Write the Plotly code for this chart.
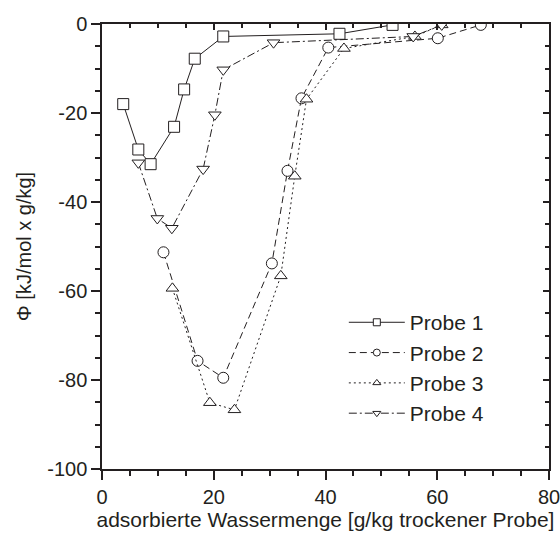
import plotly.graph_objects as go

# ---- data ----
p1_x = [3.8, 6.5, 8.7, 12.9, 14.7, 16.6, 21.7, 42.5, 52.0]
p1_y = [-18.0, -28.2, -31.5, -23.1, -14.7, -7.8, -2.8, -2.2, -0.2]

p2_x = [11.0, 17.1, 21.7, 30.4, 33.2, 35.7, 40.5, 60.1, 67.8]
p2_y = [-51.3, -75.7, -79.5, -53.8, -33.0, -16.7, -5.3, -3.2, -0.2]

p3_x = [12.6, 19.3, 23.7, 32.0, 34.5, 36.6, 43.3, 56.0, 60.8]
p3_y = [-59.4, -85.1, -86.7, -56.6, -34.2, -16.9, -5.5, -2.8, -0.2]

p4_x = [6.5, 9.9, 12.5, 18.1, 20.2, 21.7, 30.7, 55.7, 60.8]
p4_y = [-31.2, -43.7, -45.9, -32.6, -20.4, -10.3, -4.2, -2.8, -0.2]

names = ["Probe 1", "Probe 2", "Probe 3", "Probe 4"]
x_ticks = [0, 20, 40, 60, 80]
x_ticktext = ["0", "20", "40", "60", "80"]
y_ticks = [0, -20, -40, -60, -80, -100]
y_ticktext = ["0", "-20", "-40", "-60", "-80", "-100"]

series = [(p1_x, p1_y), (p2_x, p2_y), (p3_x, p3_y), (p4_x, p4_y)]
symbols = ["square", "circle", "triangle-up", "triangle-down"]
dashes = ["solid", "7px,4px", "2px,3px", "8px,3px,2px,3px"]
ink = "#231f20"
FONT = "Liberation Sans, Arial, sans-serif"

fig = go.Figure()
for (xs, ys), sym, dsh in zip(series, symbols, dashes):
    fig.add_trace(go.Scatter(
        x=xs, y=ys, mode="lines+markers", showlegend=False,
        line=dict(color=ink, width=1, dash=dsh),
        marker=dict(symbol=sym, size=11, color="white",
                    line=dict(color=ink, width=1)),
    ))
# legend-only entries with smaller markers
for nm, sym, dsh in zip(names, symbols, dashes):
    fig.add_trace(go.Scatter(
        x=[None], y=[None], mode="lines+markers", name=nm, legendgroup=nm,
        line=dict(color=ink, width=1, dash=dsh),
        marker=dict(symbol=sym, size=7, color="white",
                    line=dict(color=ink, width=1)),
    ))
# invisible trace for the mirrored top/right axes
fig.add_trace(go.Scatter(x=[None], y=[None], xaxis="x2", yaxis="y2",
                         showlegend=False, hoverinfo="skip"))

fig.update_layout(
    width=560, height=538,
    margin=dict(l=102, r=11, t=24, b=69, autoexpand=False),
    paper_bgcolor="white", plot_bgcolor="white",
    font=dict(family=FONT, size=20, color=ink),
    xaxis=dict(range=[0, 80], tickvals=x_ticks, ticktext=x_ticktext, automargin=False,
               ticklabeloverflow="allow",
               showgrid=False, zeroline=False, showline=True, linecolor=ink, linewidth=1.5,
               ticks="outside", ticklen=9, tickwidth=1.5, tickcolor=ink,
               minor=dict(dtick=5, tick0=0, ticks="outside", ticklen=5, tickwidth=1.5, tickcolor=ink),
               title=dict(text="adsorbierte Wassermenge [g/kg trockener Probe]",
                          font=dict(size=21), standoff=6),
               tickfont=dict(size=20)),
    yaxis=dict(range=[-100, 0], tickvals=y_ticks, ticktext=y_ticktext, automargin=False,
               ticklabeloverflow="allow",
               showgrid=False, zeroline=False, showline=True, linecolor=ink, linewidth=1.5,
               ticks="outside", ticklen=9, tickwidth=1.5, tickcolor=ink,
               minor=dict(dtick=5, tick0=0, ticks="outside", ticklen=5, tickwidth=1.5, tickcolor=ink),
               title=dict(text="Φ [kJ/mol x g/kg]", font=dict(size=20), standoff=10),
               tickfont=dict(size=20)),
    xaxis2=dict(range=[0, 80], overlaying="x", side="top", showticklabels=False,
                tickvals=x_ticks, showgrid=False, zeroline=False, showline=True,
                linecolor=ink, linewidth=1.5, ticks="inside", ticklen=6, tickwidth=1.5,
                tickcolor=ink, automargin=False,
                minor=dict(dtick=5, tick0=0, ticks="inside", ticklen=4, tickwidth=1.5, tickcolor=ink)),
    yaxis2=dict(range=[-100, 0], overlaying="y", side="right", showticklabels=False,
                tickvals=y_ticks, showgrid=False, zeroline=False, showline=True,
                linecolor=ink, linewidth=1.5, ticks="inside", ticklen=6, tickwidth=1.5,
                tickcolor=ink, automargin=False,
                minor=dict(dtick=5, tick0=0, ticks="inside", ticklen=4, tickwidth=1.5, tickcolor=ink)),
    legend=dict(x=0.541, y=0.375, xanchor="left", yanchor="top",
                bgcolor="rgba(0,0,0,0)", font=dict(size=21), itemwidth=56,
                tracegroupgap=0, traceorder="grouped"),
)

fig.write_html("out.html")
